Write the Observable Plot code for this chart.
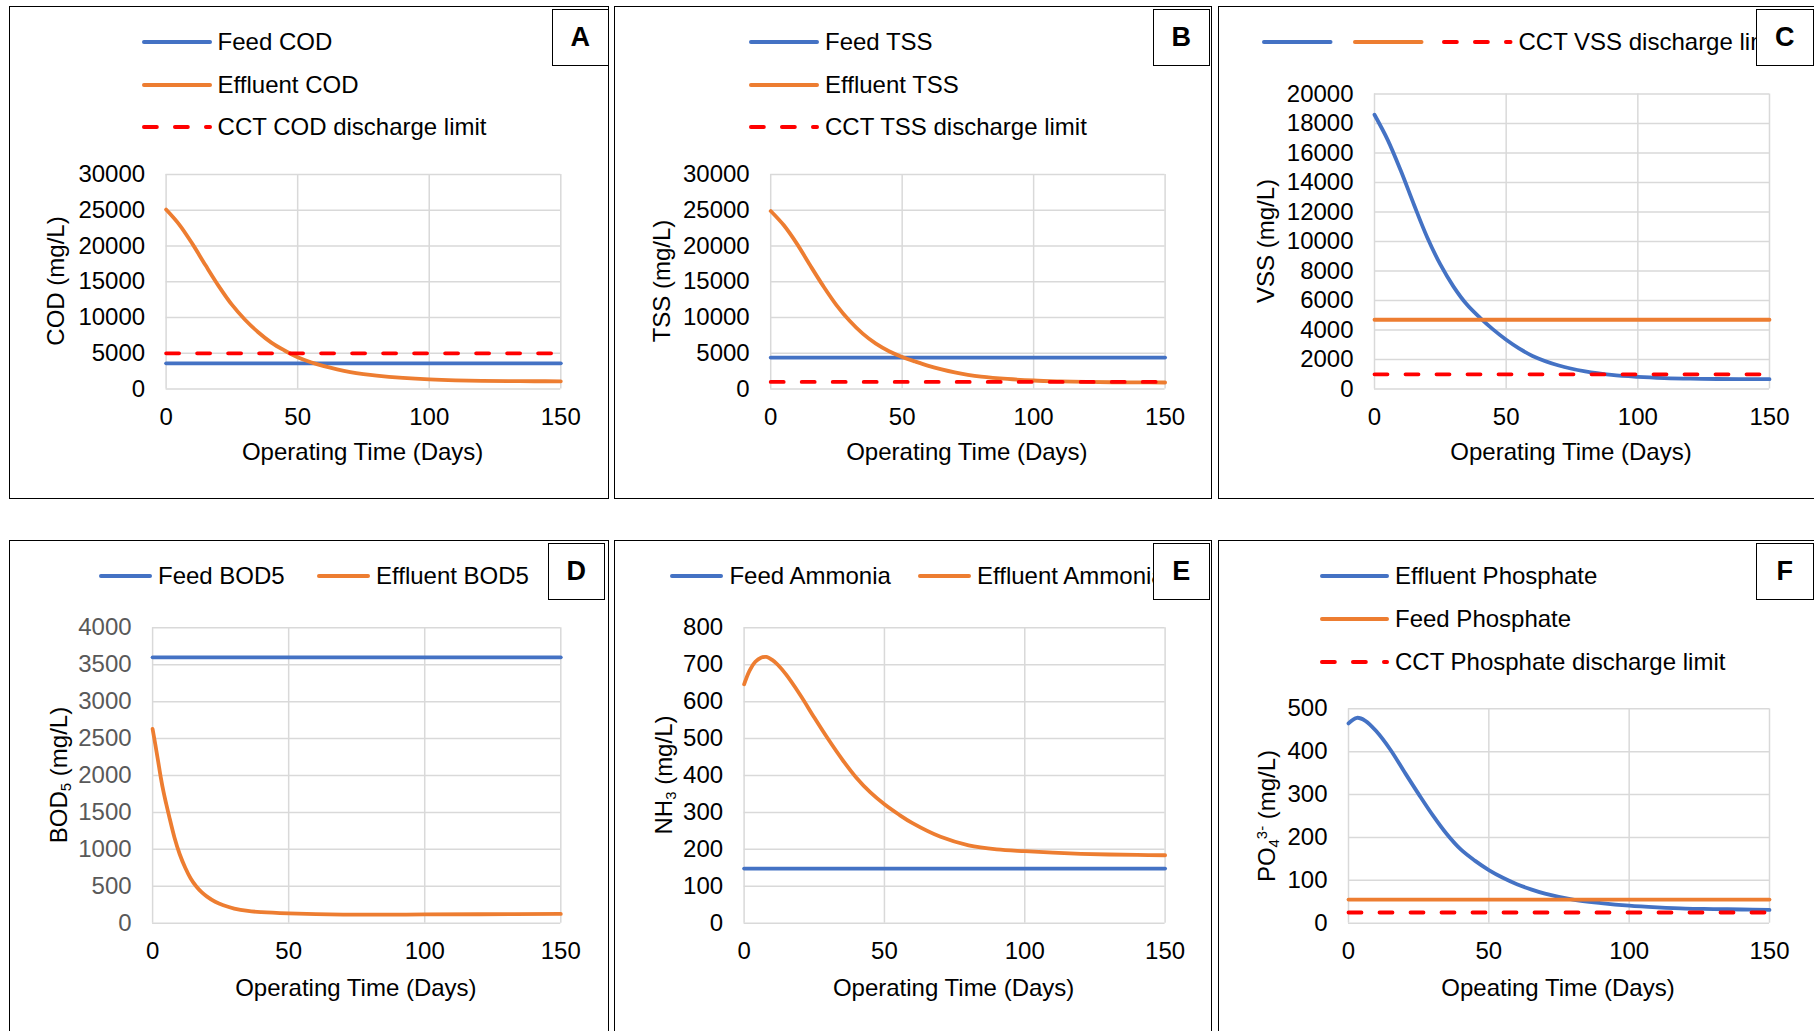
<!DOCTYPE html>
<html>
<head>
<meta charset="utf-8">
<script src="https://cdn.jsdelivr.net/npm/d3@7"></script>
<script src="https://cdn.jsdelivr.net/npm/@observablehq/plot@0.6"></script>
<style>
  html, body { margin: 0; padding: 0; background: #fff; }
  #root { position: relative; width: 1814px; height: 1031px; overflow: hidden; background: #fff;
          font-family: "Liberation Sans", Arial, sans-serif; color: #000; }
  .panel { position: absolute; border: 1.6px solid #000; box-sizing: border-box; pointer-events: none; }
  .plotsvg { position: absolute; }
  .lbl { position: absolute; border: 1.5px solid #000; background: #fff; box-sizing: border-box;
         font-weight: bold; font-size: 27px; display: flex; align-items: center; justify-content: center; }
  .legwrap { position: absolute; overflow: hidden; }
  .legitem { position: absolute; height: 24px; line-height: 24px; font-size: 24px; white-space: nowrap; }
  .legitem svg { position: absolute; left: 0; top: 0; }
  .ytitle, .xtitle { position: absolute; white-space: nowrap; font-size: 24px; line-height: 1; }
  .ytitle { transform: translate(-50%, -50%) rotate(-90deg); }
  .xtitle { transform: translate(-50%, -50%); }
  .ytitle sub { font-size: 0.62em; vertical-align: -0.28em; line-height: 0; }
  .ytitle sup { font-size: 0.62em; vertical-align: 0.55em; line-height: 0; }
</style>
</head>
<body>
<div id="root"></div>
<script>
// ---------------- DATA ----------------
const xTicks = [0, 50, 100, 150];

// A: COD
const codTicks = [0, 5000, 10000, 15000, 20000, 25000, 30000];
const codDays = [0, 5, 10, 15, 20, 25, 30, 35, 40, 45, 50, 55, 60, 65, 70, 75, 80, 90, 100, 110, 120, 130, 140, 150];
const codEffluent = [25100, 23000, 20300, 17300, 14400, 11800, 9700, 7950, 6500, 5400, 4450, 3750, 3200, 2750, 2380, 2100, 1880, 1570, 1360, 1230, 1160, 1120, 1100, 1090];
const codFeed = 3600;
const codLimit = 5000;
const codLegend = ["Feed COD", "Effluent COD", "CCT COD discharge limit"];

// B: TSS
const tssTicks = [0, 5000, 10000, 15000, 20000, 25000, 30000];
const tssDays = [0, 5, 10, 15, 20, 25, 30, 35, 40, 45, 50, 55, 60, 65, 70, 75, 80, 90, 100, 110, 120, 130, 140, 150];
const tssEffluent = [24900, 22900, 20300, 17300, 14400, 11750, 9550, 7750, 6350, 5300, 4500, 3850, 3250, 2750, 2330, 2000, 1750, 1420, 1200, 1080, 1000, 960, 940, 920];
const tssFeed = 4400;
const tssLimit = 1000;
const tssLegend = ["Feed TSS", "Effluent TSS", "CCT TSS discharge limit"];

// C: VSS
const vssTicks = [0, 2000, 4000, 6000, 8000, 10000, 12000, 14000, 16000, 18000, 20000];
const vssDays = [0, 5, 10, 15, 20, 25, 30, 35, 40, 45, 50, 55, 60, 70, 80, 90, 100, 110, 120, 130, 140, 150];
const vssFeed = [18600, 16900, 14800, 12500, 10300, 8450, 6950, 5750, 4850, 4050, 3350, 2750, 2250, 1600, 1200, 960, 830, 750, 705, 685, 675, 670];
const vssEffluent = 4700;
const vssLimit = 1000;
const vssLegend = ["", "", "CCT VSS discharge limit"];

// D: BOD5
const bodTicks = [0, 500, 1000, 1500, 2000, 2500, 3000, 3500, 4000];
const bodDays = [0, 1, 2, 3, 4, 5, 6, 8, 10, 12, 14, 16, 18, 20, 23, 26, 30, 35, 40, 50, 60, 70, 80, 90, 100, 120, 150];
const bodEffluent = [2630, 2420, 2200, 1975, 1780, 1615, 1460, 1165, 930, 750, 605, 500, 420, 360, 290, 242, 198, 166, 150, 133, 123, 117, 115, 116, 118, 121, 125];
const bodFeed = 3600;
const bodLegend = ["Feed BOD5", "Effluent BOD5"];

// E: Ammonia
const nh3Ticks = [0, 100, 200, 300, 400, 500, 600, 700, 800];
const nh3Days = [0, 2, 4, 6, 8, 10, 12, 15, 20, 25, 30, 35, 40, 45, 50, 55, 60, 70, 80, 90, 100, 110, 120, 130, 140, 150];
const nh3Effluent = [647, 685, 708, 719, 721, 713, 700, 673, 618, 557, 498, 443, 394, 354, 322, 295, 271, 234, 211, 200, 195, 191, 188, 186, 185, 184];
const nh3Feed = 148;
const nh3Legend = ["Feed Ammonia", "Effluent Ammonia"];

// F: Phosphate
const po4Ticks = [0, 100, 200, 300, 400, 500];
const po4Days = [0, 3, 6, 10, 15, 20, 25, 30, 35, 40, 45, 50, 55, 60, 65, 70, 80, 90, 100, 110, 120, 130, 140, 150];
const po4Effluent = [466, 479, 472, 447, 404, 352, 301, 252, 208, 172, 146, 124, 106, 91, 79, 69, 55, 47, 41, 37, 34, 33, 32, 31];
const po4Feed = 55;
const po4Limit = 25;
const po4Legend = ["Effluent Phosphate", "Feed Phosphate", "CCT Phosphate discharge limit"];

// ---------------- STYLE ----------------
const BLUE = "#4472C4", ORANGE = "#ED7D31", RED = "#FF0000";
const FONT = '"Liberation Sans", Arial, sans-serif';
const LW = 3.8;
const DASH = "13,18";

function curve(days, vals, color) {
  return Plot.lineY(vals, {x: days, stroke: color, strokeWidth: LW, curve: "catmull-rom", strokeLinecap: "round", strokeLinejoin: "round"});
}
function flat(v, color) {
  return Plot.lineY([v, v], {x: [0, 150], stroke: color, strokeWidth: LW, strokeLinecap: "round"});
}
function dashed(v, color) {
  return Plot.lineY([v, v], {x: [0, 150], stroke: color, strokeWidth: LW, strokeDasharray: DASH, strokeLinecap: "round"});
}

const panels = [
  {label: "A", box: [8.7, 5.7, 609, 499], frame: [165.3, 173.7, 560, 388.3], yTicks: codTicks,
   marks: [flat(codFeed, BLUE), curve(codDays, codEffluent, ORANGE), dashed(codLimit, RED)],
   ytitle: "COD (mg/L)", yt: [56, 281], xtitle: "Operating Time (Days)", xtY: 452,
   lblBox: [551.5, 9, 57.5, 57], legClip: null,
   legend: [{x: 141.6, y: 41.7, len: 70, c: BLUE, t: codLegend[0]}, {x: 141.6, y: 84.8, len: 70, c: ORANGE, t: codLegend[1]}, {x: 141.6, y: 127, len: 70, c: RED, dash: true, t: codLegend[2]}]},
  {label: "B", box: [613.5, 5.7, 1212, 499], frame: [769.7, 173.7, 1164.1, 388.3], yTicks: tssTicks,
   marks: [flat(tssFeed, BLUE), curve(tssDays, tssEffluent, ORANGE), dashed(tssLimit, RED)],
   ytitle: "TSS (mg/L)", yt: [662, 281], xtitle: "Operating Time (Days)", xtY: 452,
   lblBox: [1152.5, 9, 57.5, 57], legClip: null,
   legend: [{x: 749, y: 41.7, len: 70, c: BLUE, t: tssLegend[0]}, {x: 749, y: 84.8, len: 70, c: ORANGE, t: tssLegend[1]}, {x: 749, y: 127, len: 70, c: RED, dash: true, t: tssLegend[2]}]},
  {label: "C", box: [1217.5, 5.7, 1818, 499], frame: [1373.5, 93.3, 1768.5, 388.3], yTicks: vssTicks,
   marks: [curve(vssDays, vssFeed, BLUE), flat(vssEffluent, ORANGE), dashed(vssLimit, RED)],
   ytitle: "VSS (mg/L)", yt: [1266, 240.8], xtitle: "Operating Time (Days)", xtY: 452,
   lblBox: [1756, 9, 57.5, 57], legClip: 1756,
   legend: [{x: 1262, y: 41.7, len: 70.5, c: BLUE, t: vssLegend[0]}, {x: 1352.5, y: 41.7, len: 70.5, c: ORANGE, t: vssLegend[1]}, {x: 1442, y: 41.7, len: 70.5, c: RED, dash: true, t: vssLegend[2]}]},
  {label: "D", box: [8.7, 540, 609, 1040], frame: [151.8, 627.3, 560, 922.7], yTicks: bodTicks, grayY: true,
   marks: [flat(bodFeed, BLUE), curve(bodDays, bodEffluent, ORANGE)],
   ytitle: "BOD<sub>5</sub> (mg/L)", yt: [58.5, 775], xtitle: "Operating Time (Days)", xtY: 987.7,
   lblBox: [547.6, 542.7, 57.4, 57.3], legClip: null,
   legend: [{x: 99, y: 576, len: 53, c: BLUE, t: bodLegend[0]}, {x: 317, y: 576, len: 53, c: ORANGE, t: bodLegend[1]}]},
  {label: "E", box: [613.5, 540, 1212, 1040], frame: [743.1, 627.3, 1164.1, 922.7], yTicks: nh3Ticks,
   marks: [flat(nh3Feed, BLUE), curve(nh3Days, nh3Effluent, ORANGE)],
   ytitle: "NH<sub>3</sub> (mg/L)", yt: [664, 775], xtitle: "Operating Time (Days)", xtY: 987.7,
   lblBox: [1152.5, 542.7, 57.5, 57.3], legClip: 1152.5,
   legend: [{x: 670.4, y: 576, len: 53, c: BLUE, t: nh3Legend[0]}, {x: 918, y: 576, len: 53, c: ORANGE, t: nh3Legend[1]}]},
  {label: "F", box: [1217.5, 540, 1818, 1040], frame: [1347.5, 708.3, 1768.5, 922.7], yTicks: po4Ticks,
   marks: [curve(po4Days, po4Effluent, BLUE), flat(po4Feed, ORANGE), dashed(po4Limit, RED)],
   ytitle: "PO<sub>4</sub><sup>3-</sup> (mg/L)", yt: [1267, 815.5], xtitle: "Opeating Time (Days)", xtY: 987.7,
   lblBox: [1756, 542.7, 57.5, 57.3], legClip: null,
   legend: [{x: 1320, y: 576, len: 69, c: BLUE, t: po4Legend[0]}, {x: 1320, y: 619, len: 69, c: ORANGE, t: po4Legend[1]}, {x: 1320, y: 661.7, len: 69, c: RED, dash: true, t: po4Legend[2]}]}
];

// ---------------- RENDER ----------------
const root = document.getElementById("root");

function div(cls, css, html) {
  const d = document.createElement("div");
  d.className = cls;
  Object.assign(d.style, css);
  if (html != null) d.innerHTML = html;
  return d;
}

for (const p of panels) {
  const [bl, bt, br, bb] = p.box;
  const [fl, ft, fr, fb] = p.frame;
  const yMax = p.yTicks[p.yTicks.length - 1];
  const svg = Plot.plot({
    width: br - bl,
    height: bb - bt,
    marginLeft: fl - bl,
    marginRight: br - fr,
    marginTop: ft - bt,
    marginBottom: bb - fb,
    style: {fontFamily: FONT, fontSize: "24px", background: "transparent", color: "#000", overflow: "visible"},
    x: {domain: [0, 150], ticks: xTicks, tickSize: 0, tickPadding: 19, tickFormat: d => String(d), label: null},
    y: {domain: [0, yMax], ticks: p.yTicks, tickSize: 0, tickPadding: 21, tickFormat: d => String(d), label: null},
    marks: [
      Plot.ruleX(xTicks, {stroke: "#d9d9d9", strokeWidth: 1.5}),
      Plot.ruleY(p.yTicks, {stroke: "#d9d9d9", strokeWidth: 1.5}),
      ...p.marks
    ]
  });
  svg.classList.add("plotsvg");
  svg.style.left = bl + "px";
  svg.style.top = bt + "px";
  svg.style.maxWidth = "none";
  if (p.grayY) {
    svg.querySelectorAll('g[aria-label="y-axis tick label"], g[aria-label="y-axis"]').forEach(g => { g.style.color = "#595959"; g.setAttribute("fill", "#595959"); });
  }
  root.appendChild(svg);

  // panel border
  root.appendChild(div("panel", {left: bl + "px", top: bt + "px", width: (br - bl) + "px", height: (bb - bt) + "px"}));

  // axis titles
  root.appendChild(div("ytitle", {left: p.yt[0] + "px", top: p.yt[1] + "px"}, p.ytitle));
  root.appendChild(div("xtitle", {left: ((fl + fr) / 2) + "px", top: p.xtY + "px"}, p.xtitle));

  // legend (clipped where the reference's label box hides its end)
  const clipRight = p.legClip != null ? p.legClip : br - 2;
  const wrap = div("legwrap", {left: bl + 2 + "px", top: bt + 2 + "px", width: (clipRight - bl - 2) + "px", height: "160px"});
  root.appendChild(wrap);
  for (const it of p.legend) {
    const item = div("legitem", {left: (it.x - bl - 2) + "px", top: (it.y - bt - 2 - 12) + "px"});
    const ns = "http://www.w3.org/2000/svg";
    const s = document.createElementNS(ns, "svg");
    s.setAttribute("width", it.len + 4);
    s.setAttribute("height", 24);
    const ln = document.createElementNS(ns, "line");
    ln.setAttribute("x1", 1.9); ln.setAttribute("x2", it.len - 1.9);
    ln.setAttribute("y1", 12); ln.setAttribute("y2", 12);
    ln.setAttribute("stroke", it.c); ln.setAttribute("stroke-width", LW);
    ln.setAttribute("stroke-linecap", "round");
    if (it.dash) ln.setAttribute("stroke-dasharray", DASH);
    s.appendChild(ln);
    item.appendChild(s);
    if (it.t) {
      const sp = document.createElement("span");
      sp.textContent = it.t;
      sp.style.position = "absolute";
      sp.style.left = (it.len + 6) + "px";
      sp.style.top = "0px";
      item.appendChild(sp);
    }
    wrap.appendChild(item);
  }

  // label box
  const [lx, ly, lw, lh] = p.lblBox;
  root.appendChild(div("lbl", {left: lx + "px", top: ly + "px", width: lw + "px", height: lh + "px"}, p.label));
}
</script>
</body>
</html>
